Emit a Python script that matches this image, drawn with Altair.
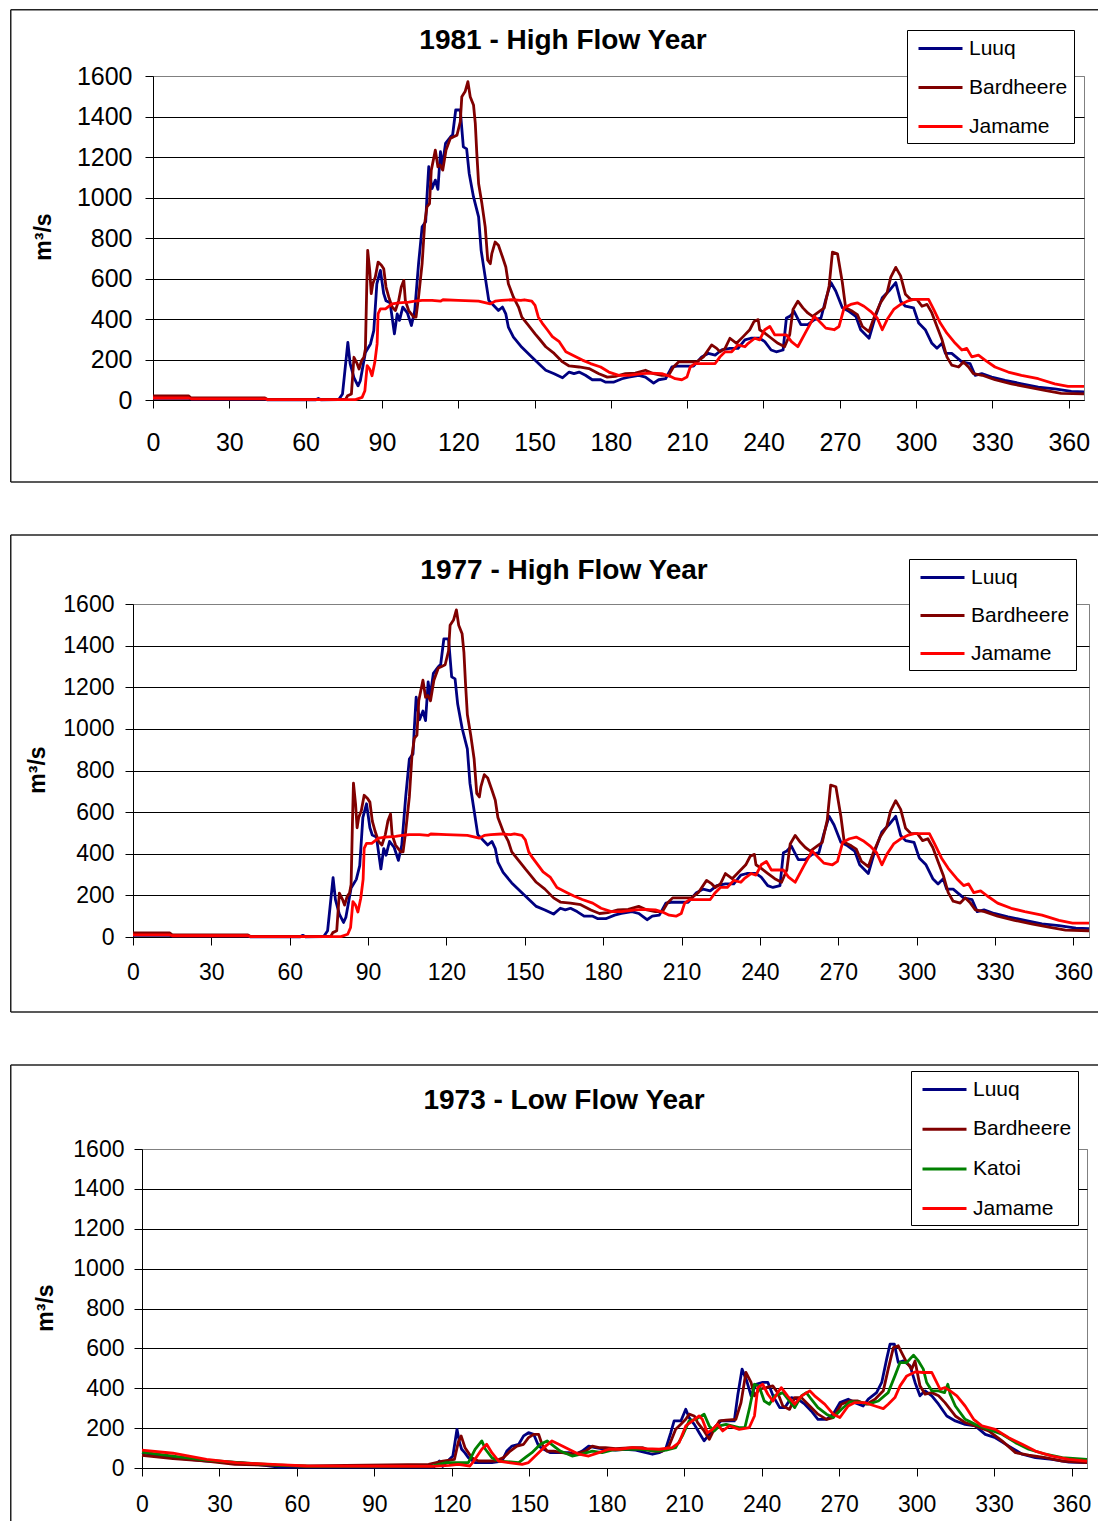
import altair as alt
import pandas as pd

FONT = "Liberation Sans"
X_TICKS = list(range(0, 361, 30))
Y_TICKS = list(range(0, 1601, 200))
COLORS = {"Luuq": "#000080", "Bardheere": "#800000", "Katoi": "#008000", "Jamame": "#FF0000"}

# ---- High flow year hydrographs (day of year, discharge m3/s) ----
HIGH_LUUQ = [(0,8),(14,8),(15,5),(44,5),(45,1),(64,1),(65,8),(66,1),(73,2),(74.5,30),
 (76.6,285),(77.5,180),(79,110),(80.6,70),(81.5,95),(83.5,235),(85.5,277),(86.8,343),(88,574),(89.4,640),
 (90.7,525),(91.6,490),(93.2,480),(94.9,327),(96,425),(96.9,393),(98.2,459),(100,430),(101.6,368),(102.9,442),
 (104.4,673),(105.8,855),(107.2,880),(107.7,1003),(108.4,1152),(109.7,1044),(111,1086),(112,1040),(113,1226),(113.7,1152),
 (115,1267),(117,1300),(117.8,1310),(119,1432),(120.8,1432),(122,1250),(123.3,1240),(124.3,1119),(126,1003),(128,904),
 (129,739),(130,656),(132,492),(134.5,459),(135.8,442),(137.4,459),(138.7,425),(139.7,360),(141.7,310),(145,260),
 (149,211),(152,175),(154.4,147),(157.7,130),(161,110),(163.6,138),(165.5,130),(167.5,138),(170,122),(172.7,100),
 (176,100),(178,88),(181,88),(184.4,105),(187,113),(191,122),(193.6,113),(196.8,83),(198.8,100),(201.5,105),
 (204,163),(206,167),(209.2,167),(212.5,167),(215.7,213),(218.3,230),(221,222),(223.5,247),(226.8,255),(230,255),
 (232.7,297),(235,305),(238.5,305),(240.5,288),(243,247),(245,238),(247.7,247),(249,405),(250.3,413),(251.6,430),
 (252,438),(254.7,372),(257.4,372),(260,397),(262.6,405),(264.5,497),(266.5,580),(268.4,538),(271,455),(273.6,438),
 (276.3,413),(278.2,347),(281.5,305),(284,413),(286.7,505),(289.3,538),(292,580),(293.9,488),(295.8,463),(299,455),
 (301,380),(303.6,347),(306.2,280),(308.2,255),(310.2,280),(311.5,230),(314,230),(318,188),(321.2,180),(323.2,122),
 (325.8,130),(329.7,113),(335,97),(341.5,80),(348,63),(354.5,55),(361,43),(366,40)]

HIGH_BARDHEERE = [(0,20),(14,20),(15,10),(44,10),(45,3),(75.7,3),(76.5,21),(78,30),(79,211),(80.3,178),
 (81,153),(82,195),(82.9,211),(83.5,252),(84,541),(84.4,739),(85.2,640),(85.8,525),(86.4,574),(87.4,607),
 (88.5,681),(89.8,665),(90.7,648),(91.6,558),(92.7,508),(94,459),(95.3,442),(96.6,492),(97.6,558),(98.6,591),
 (99.2,492),(100.5,442),(102.5,409),(103.4,409),(104.4,508),(105.8,673),(106.8,871),(107.7,954),(108.7,970),(109.4,1135),
 (111,1234),(112,1152),(112.9,1160),(113.9,1135),(115.2,1234),(116.9,1292),(118.2,1300),(119.5,1308),(120.8,1374),(121.4,1498),
 (122.7,1523),(123.8,1572),(124.7,1498),(126,1457),(126.7,1366),(127.3,1218),(128,1069),(129.3,970),(130.6,855),(131.6,690),
 (132.6,673),(133.2,723),(134.5,780),(135.8,764),(137.4,706),(138.7,657),(139.7,574),(141.7,508),(143.7,459),(145,409),
 (147.6,368),(150.2,327),(152,300),(154.4,263),(157.7,230),(161,188),(163.6,168),(167.5,163),(171.4,155),(175.3,130),
 (178.6,113),(181.8,117),(185.7,130),(189.6,133),(193.6,147),(196.8,130),(200,122),(202.7,122),(204.6,163),(206.6,188),
 (210.5,188),(213.8,188),(216.4,213),(219.6,272),(221.6,255),(222.9,238),(224.9,255),(226.8,305),(229.4,280),(232,313),
 (234.6,347),(236.3,388),(237.9,397),(238.5,347),(240.5,330),(243.1,305),(245.7,280),(248.3,263),(250.3,322),(251.6,447),
 (253.5,488),(255.5,455),(257.4,430),(259.3,413),(262,438),(263.9,455),(265.8,563),(267.1,730),(269.1,722),(271,580),
 (272.3,455),(275,438),(276.9,422),(278.9,363),(281.5,338),(283.4,405),(286,480),(288.6,530),(290,605),(292,655),
 (293.9,613),(295.8,522),(297.8,497),(300.3,497),(302.3,463),(304.3,472),(306.2,430),(308.2,363),(310.2,297),(312.1,213),
 (314,172),(316.7,163),(318.6,188),(320.6,163),(322.5,130),(326,122),(331,100),(337.5,80),(344,63),(350.6,47),
 (357,33),(366,30)]

HIGH_JAMAME = [(0,10),(14,10),(15,6),(44,6),(45,2),(79.6,2),(82.2,13),(83.3,46),(84.2,170),(85.2,153),
 (86.1,120),(87.2,186),(88.1,277),(88.5,426),(89.4,450),(91.4,450),(94,475),(96.6,480),(100.5,483),(103,488),
 (105.8,492),(109.7,492),(113,488),(114,495),(120,492),(128,488),(132.6,475),(134.5,488),(137,492),(141,495),
 (144.6,492),(146,495),(148.9,488),(150.2,467),(151.5,409),(153,380),(155,347),(157,313),(159.7,288),(162.3,238),
 (166.2,213),(168.8,197),(172,180),(176,163),(179.2,138),(183.1,122),(187,122),(192.3,130),(196,133),(200,130),
 (203.3,117),(205.3,105),(207.9,100),(209.9,113),(211.2,163),(213.1,180),(217,180),(221,180),(222.9,213),(224.9,238),
 (227.5,238),(230,272),(232.7,263),(234,280),(236.6,305),(238.5,297),(240.5,347),(242.5,363),(244.4,322),(249,322),
 (251,288),(253.5,263),(256.7,338),(260,413),(262.6,380),(264.5,355),(267.8,347),(269.7,363),(271.7,455),(274.3,472),
 (276.9,480),(279.5,463),(282.1,438),(284.7,405),(286.7,347),(288.6,397),(291.2,447),(293.9,472),(296.5,488),(299.1,497),
 (302.3,497),(304.9,497),(306.9,447),(309.5,380),(312.1,330),(315.4,280),(318,247),(319.9,255),(321.9,213),(324.5,222),
 (327.1,197),(331,163),(336.2,138),(341.4,122),(348,105),(354.5,80),(359.7,67),(366,67)]

# ---- 1973 low flow year ----
LOW_LUUQ = [(0,77),(12,52),(25,35),(38,27),(53,5),(113,5),(115.2,35),(116.5,8),(119,43),(120.4,60),
 (122,194),(123,127),(123.8,94),(125,77),(126.4,52),(129,27),(135.5,27),(139.4,35),(141.3,85),(143.3,110),
 (145.9,119),(147.8,161),(149.7,177),(151.7,169),(153.6,110),(155.6,94),(158.2,77),(161.4,77),(165.3,77),(167.9,69),
 (170.5,85),(173,110),(175.6,102),(179.5,94),(183.4,90),(187.3,94),(191.2,90),(194.4,80),(197.7,69),(200.3,77),
 (202.8,94),(204.8,177),(206.1,236),(208.7,236),(210.6,295),(211.9,253),(213.9,219),(215.8,177),(217.7,136),(219.7,169),
 (222.3,211),(224.2,236),(229.4,236),(230.7,362),(232.4,496),(234.2,437),(235.9,362),(237.8,420),(240.4,429),(242.4,429),
 (244.4,362),(247,303),(249,303),(251.5,353),(254,345),(256.7,320),(259.2,286),(261.8,244),(265.1,244),(267.7,270),
 (270.3,328),(273.5,345),(276.1,328),(279.3,311),(281.3,345),(284.5,378),(286.5,429),(288.4,546),(289.7,621),(291.4,621),
 (292.9,529),(294.9,537),(297.5,512),(299.4,429),(301.3,362),(303.3,387),(305.9,362),(308.5,320),(311.7,261),(315,236),
 (318.8,219),(322.7,211),(326.6,169),(330.5,152),(335.7,110),(340.9,69),(346,52),(352.5,43),(359,30),(366,27)]

LOW_BARDHEERE = [(0,64),(12,47),(25,35),(36,18),(63,10),(111,18),(116.5,35),(121,43),(122.5,130),(123.6,161),
 (125.1,102),(127.7,52),(130.3,35),(136.8,35),(140,52),(142.6,85),(145.2,110),(147.8,119),(149.7,152),(151.7,169),
 (153.6,169),(154.9,119),(156.9,85),(159.5,85),(162.7,77),(167,69),(171.8,85),(174.4,110),(177,102),(179.5,102),
 (183.4,97),(189.9,102),(193.8,102),(197.7,85),(201.5,85),(204.1,110),(206.7,194),(208.7,219),(210.6,244),(211.9,270),
 (213.9,261),(215.2,228),(217.7,186),(219.7,144),(221.6,194),(223.6,236),(226.2,240),(230,244),(232,328),(233.9,479),
 (235.9,429),(237.2,362),(239.1,395),(241.7,403),(244.3,412),(246.2,378),(248.2,311),(250.8,294),(252.8,353),(255.4,353),
 (258.6,311),(261.8,270),(265.1,244),(267.7,253),(270.9,320),(274.1,336),(277.3,336),(280.6,320),(283.9,345),(287.1,387),
 (289,496),(291,604),(292.9,613),(294.2,579),(296.2,529),(298.1,496),(299.4,537),(301.3,412),(303.3,370),(305.9,378),
 (308.5,362),(311,328),(315,261),(318.8,228),(322.7,211),(327.9,186),(333.1,136),(338.3,77),(343.4,64),(349.9,52),
 (356.4,35),(366,27)]

LOW_KATOI = [(0,80),(12,60),(25,40),(38,27),(52,15),(65,8),(112,8),(117.8,27),(126.4,27),(129,94),
 (131.6,136),(133,94),(135.5,52),(138.1,35),(145.9,27),(148.4,52),(151,77),(154.3,119),(156.9,136),(159.5,110),
 (162,85),(166.6,60),(170,69),(174.4,85),(178.2,77),(182,90),(187.3,94),(193,94),(199,85),(203,90),
 (206.7,102),(209.3,161),(211.9,236),(214.5,244),(217.7,270),(219.7,211),(221.6,186),(223.6,211),(226.2,219),(231.3,203),
 (233.5,203),(235.2,295),(237.2,420),(239,410),(241,336),(243,320),(245,362),(248.2,378),(250.8,336),(252.8,303),
 (255.4,362),(257.3,378),(259.2,345),(261.8,303),(265.1,270),(267.7,253),(270.9,295),(274.1,331),(278,331),(281.3,320),
 (285.2,336),(289,378),(291.6,462),(293.6,529),(296.2,529),(298.8,566),(300.7,537),(302.6,496),(303.9,429),(305.9,387),
 (308.5,387),(310.8,378),(312.1,420),(313,370),(315,311),(318.8,244),(322.7,219),(327.9,194),(333.1,169),(338.3,127),
 (343.4,94),(349.9,69),(356.4,52),(366,43)]

LOW_JAMAME = [(0,90),(12,74),(25,43),(36.4,27),(50.6,18),(63.6,10),(112.7,8),(119,13),(122.5,18),(127,10),
 (128.5,35),(131.6,94),(133.5,119),(135.5,77),(138.1,35),(142,27),(147.2,18),(149.7,27),(152.3,60),(155.6,102),
 (158.8,136),(161.4,119),(165.3,94),(169.2,69),(173,60),(176.9,77),(180.8,94),(185,94),(189.9,102),(195,97),
 (200.3,94),(205.4,102),(208,127),(210.6,211),(213.2,236),(215.8,261),(217,245),(219,177),(221,194),(222.9,219),
 (224.9,186),(227.5,211),(231.3,194),(235.2,203),(237.2,261),(238.5,403),(240.4,420),(242.4,370),(244.3,336),(246.2,378),
 (247.6,403),(250,362),(252.8,320),(255.5,362),(258.6,387),(260.5,362),(264.4,320),(267.7,270),(270.3,253),(273.5,311),
 (276.1,328),(280,328),(283.9,311),(287.1,298),(289,320),(291.6,353),(293.6,412),(296.2,462),(299.4,482),(302.5,479),
 (305.9,479),(307.2,445),(309.1,395),(311,403),(313,387),(315.6,362),(318.8,311),(322.1,244),(325.3,211),(330.5,194),
 (335.7,152),(340.9,119),(346,85),(352.5,60),(359,43),(366,35)]

HIGH_SERIES = {"Luuq": HIGH_LUUQ, "Bardheere": HIGH_BARDHEERE, "Jamame": HIGH_JAMAME}
LOW_SERIES = {"Luuq": LOW_LUUQ, "Bardheere": LOW_BARDHEERE, "Katoi": LOW_KATOI, "Jamame": LOW_JAMAME}

PANELS = [
    dict(title="1981 - High Flow Year", series=HIGH_SERIES, w=931, h=324, fs=25, xpad=22, ypad=13,
         fl=-142.25, fr=945, ft=-66.25, fb=406, lb=None, tx=410, ty=-35, yx=-109.5, yy=161,
         lx=899, ly=-46, rp=16),
    dict(title="1977 - High Flow Year", series=HIGH_SERIES, w=956, h=333, fs=23, xpad=16, ypad=11,
         fl=-122.25, fr=965, ft=-69, fb=408, lb=None, tx=431, ty=-33, yx=-95.5, yy=166,
         lx=901, ly=-45, rp=15),
    dict(title="1973 - Low Flow Year", series=LOW_SERIES, w=945, h=319, fs=23, xpad=17, ypad=10,
         fl=-131.25, fr=956, ft=-84, fb=None, lb=372, tx=422, ty=-48, yx=-96, yy=159,
         lx=903, ly=-78, rp=16.7),
]

ONE = pd.DataFrame({"k": [0]})


def long_df(series):
    rows = []
    for name, pts in series.items():
        for d, q in pts:
            rows.append({"station": name, "day": d, "q": q})
    return pd.DataFrame(rows)


def make_panel(p):
    df = long_df(p["series"])
    names = list(p["series"].keys())
    x = alt.X("day:Q", scale=alt.Scale(domain=[0, 366], nice=False, zero=False),
              axis=alt.Axis(values=X_TICKS, title=None, grid=False, domainColor="#000000",
                            tickColor="#000000", tickSize=8, labelFontSize=p["fs"], labelFont=FONT,
                            labelColor="#000000", labelPadding=p["xpad"], labelFlush=False,
                            labelOverlap=False, format="d"))
    y = alt.Y("q:Q", scale=alt.Scale(domain=[0, 1600], nice=False),
              axis=alt.Axis(values=Y_TICKS, title=None, grid=True, format="d",
                            gridColor={"condition": {"test": "datum.value >= 1600", "value": "#808080"},
                                       "value": "#000000"},
                            gridWidth=1, domainColor="#000000", tickColor="#000000", tickSize=8,
                            labelFontSize=p["fs"], labelFont=FONT, labelColor="#000000",
                            labelPadding=p["ypad"], labelOverlap=False))
    color = alt.Color("station:N",
                      scale=alt.Scale(domain=names, range=[COLORS[n] for n in names]),
                      legend=alt.Legend(title=None, orient="none", legendX=p["lx"], legendY=p["ly"],
                                        direction="vertical", strokeColor="#000000", fillColor="#ffffff",
                                        padding=6, symbolType="M-1,0H3", symbolSize=484,
                                        symbolStrokeWidth=3, symbolOffset=4, labelFont=FONT,
                                        labelFontSize=21, labelColor="#000000", labelOffset=27,
                                        rowPadding=p["rp"], labelLimit=300))
    layers = []
    # chart-area frame (top, left, bottom)
    rule = dict(color="#222222", strokeWidth=1.5)
    layers.append(alt.Chart(ONE).mark_rule(**rule).encode(
        x=alt.value(p["fl"]), x2=alt.value(p["fr"]), y=alt.value(p["ft"])))
    left_bottom = p["fb"] if p["fb"] is not None else p["lb"]
    layers.append(alt.Chart(ONE).mark_rule(**rule).encode(
        x=alt.value(p["fl"]), y=alt.value(p["ft"]), y2=alt.value(left_bottom)))
    if p["fb"] is not None:
        layers.append(alt.Chart(ONE).mark_rule(**rule).encode(
            x=alt.value(p["fl"]), x2=alt.value(p["fr"]), y=alt.value(p["fb"])))
    for n in names:
        layers.append(alt.Chart(df).transform_filter(alt.datum.station == n)
                      .mark_line(strokeWidth=2.8, strokeJoin="round")
                      .encode(x=x, y=y, color=color))
    layers.append(alt.Chart(ONE).mark_text(text=p["title"], font=FONT, fontSize=28, fontWeight="bold",
                                           align="center", baseline="middle", color="#000000")
                  .encode(x=alt.value(p["tx"]), y=alt.value(p["ty"])))
    layers.append(alt.Chart(ONE).mark_text(text="m³/s", font=FONT, fontSize=23, fontWeight="bold",
                                           align="center", baseline="middle", angle=270, color="#000000")
                  .encode(x=alt.value(p["yx"]), y=alt.value(p["yy"])))
    panel = alt.layer(*layers).properties(width=p["w"], height=p["h"])
    spacer = (alt.Chart(ONE).mark_point(opacity=0, size=1, strokeWidth=0)
              .encode(x=alt.value(0.5), y=alt.value(0.5))
              .properties(width=1, height=1, view=alt.ViewBackground(strokeOpacity=0)))
    return alt.hconcat(spacer, panel, spacing=0)


chart = (alt.vconcat(*[make_panel(p) for p in PANELS], spacing=49)
         .resolve_scale(color="independent", x="independent", y="independent")
         .resolve_legend(color="independent")
         .properties(padding=0, background="#ffffff")
         .configure_view(stroke="#808080", strokeWidth=1))

chart.save("out.html", embed_options={"renderer": "svg", "actions": False})
